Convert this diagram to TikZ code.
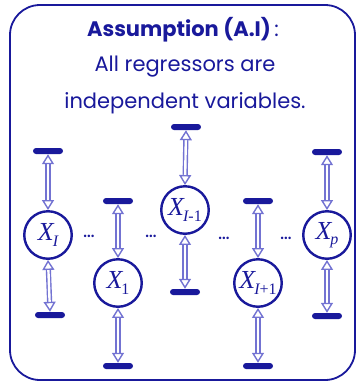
\documentclass[tikz,border=0pt]{standalone}
\usepackage{fontspec}
\setmainfont{Poppins}
\newfontfamily\vfont{Liberation Serif}
\usetikzlibrary{arrows.meta}
\definecolor{navy}{RGB}{25,25,155}
\definecolor{peri}{RGB}{115,115,210}
\newcommand{\xsub}[1]{{\vfont\itshape X\kern-1pt\raisebox{-5.5pt}{\fontsize{16}{16}\selectfont #1}}}
\begin{document}
\begin{tikzpicture}[x=1pt,y=-1pt,
  var/.style={circle, draw=navy, line width=2.4pt, minimum size=47.5pt, inner sep=0pt,
    font=\fontsize{26}{28}\selectfont, text=navy},
  bar/.style={rectangle, fill=navy, minimum width=30pt, minimum height=6pt, inner sep=0pt, rounded corners=3pt},
  link/.style={draw=peri, line width=1.4pt, double=white, double distance=2.4pt,
    {Triangle[open, length=10pt, width=12pt]}-{Triangle[open, length=10pt, width=12pt]}},
  txt/.style={text=navy, font=\fontsize{21}{24}\selectfont, inner sep=0pt},
  dotsn/.style={text=navy, font=\fontsize{20}{22}\selectfont, inner sep=0pt}]
\useasboundingbox (0,0) rectangle (358,384);
\draw[navy, line width=1.8pt, rounded corners=30pt] (10,5) rectangle (355,380);
\node[txt] (title) at (183,30) {\textbf{Assumption (A.I)}\,:};
\node[txt] (l2) at (185,67) {All regressors are};
\node[txt] (l3) at (185,103) {independent variables.};
% nodes
\node[var] (XI) at (48,235) {\xsub{\itshape I}};
\node[var] (X1) at (118,283) {\xsub{\upshape 1}};
\node[var] (XIm) at (185,210) {\xsub{\itshape I\upshape -1}};
\node[var] (XIp) at (258,283) {\xsub{\itshape I\upshape +1}};
\node[var] (Xp) at (327,235) {\xsub{\itshape p}};
% bars
\node[bar] (tI) at (48,151) {};
\node[bar] (bI) at (50,315) {};
\node[bar] (t1) at (118,201) {};
\node[bar] (b1) at (118,366) {};
\node[bar] (tIm) at (186,127) {};
\node[bar] (bIm) at (185,292) {};
\node[bar] (tIp) at (258,201) {};
\node[bar] (bIp) at (258,366) {};
\node[bar] (tp) at (327,152) {};
\node[bar] (bp) at (327,316) {};
% links
\foreach \v/\t/\b in {XI/tI/bI, X1/t1/b1, XIm/tIm/bIm, XIp/tIp/bIp, Xp/tp/bp}{
  \draw[link] (\t.south) -- (\v.north);
  \draw[link] (\v.south) -- (\b.north);
}
% dots
\node[dotsn] (d1) at (89,236) {\ldots};
\node[dotsn] (d2) at (151,236) {\ldots};
\node[dotsn] (d3) at (224,238) {\ldots};
\node[dotsn] (d4) at (286,238) {\ldots};
\end{tikzpicture}
\end{document}
